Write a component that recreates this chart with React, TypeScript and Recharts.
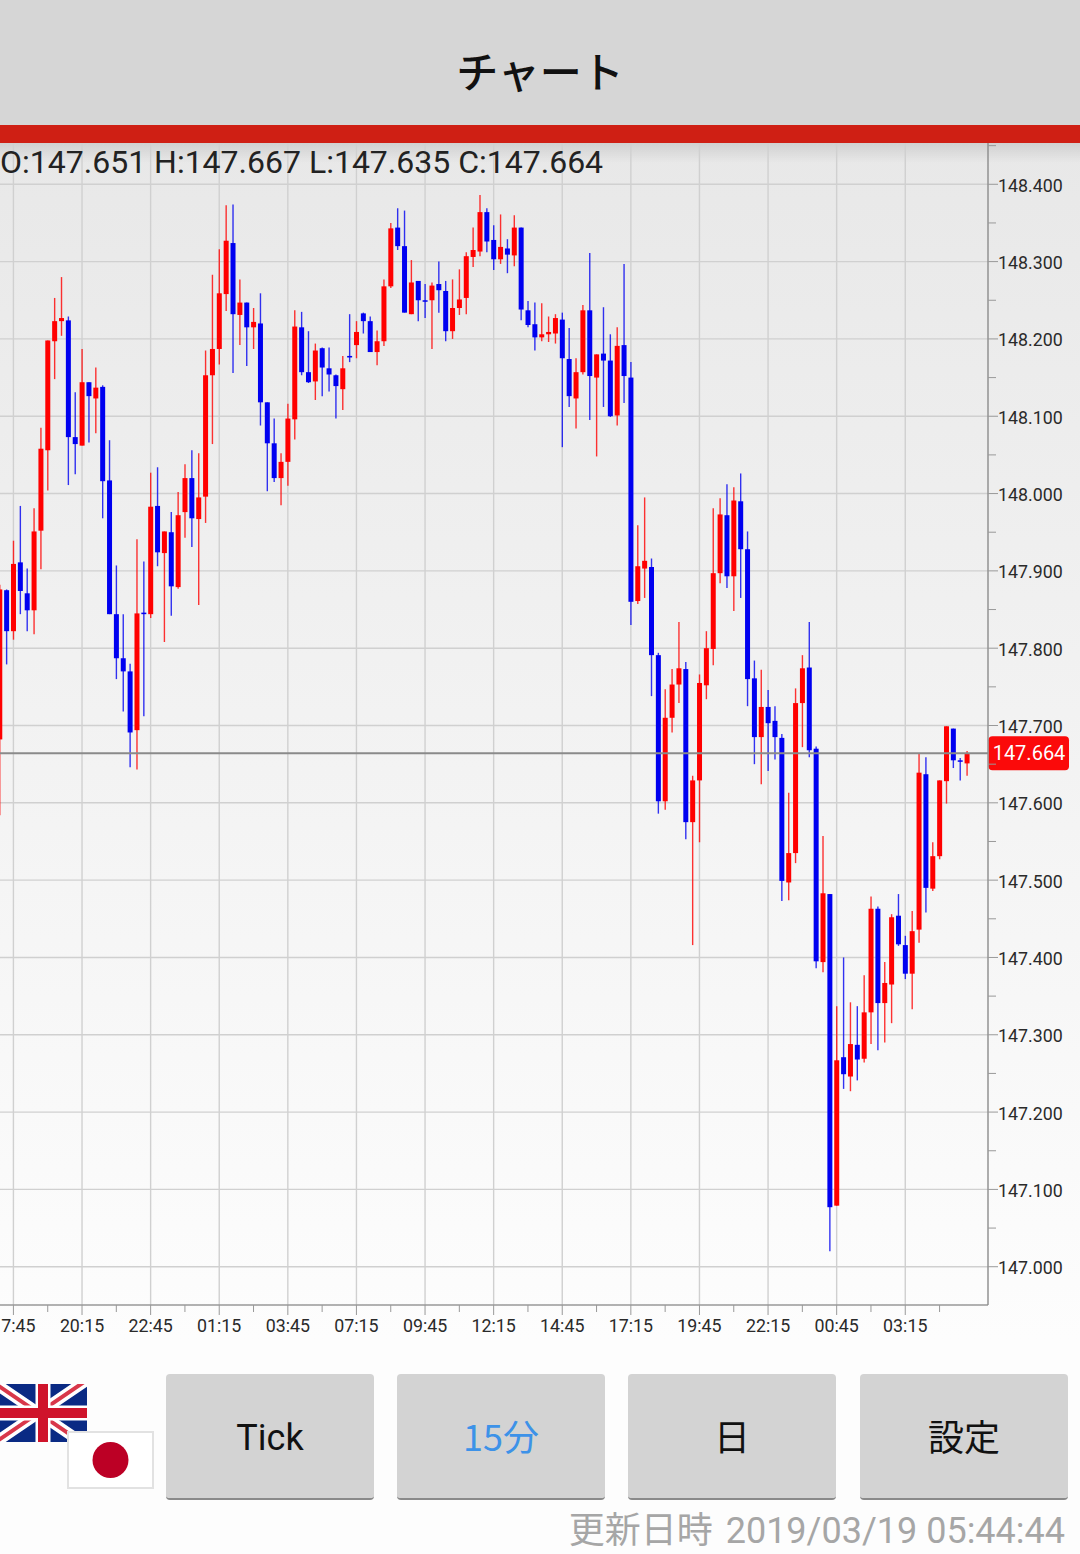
import React from "react";
import { ComposedChart, Bar, XAxis, YAxis, CartesianGrid, ReferenceLine } from "recharts";

const opens = [147682,147875,147822,147911,147871,147849,147952,148056,148197,148223,148224,148073,148062,148144,148123,148138,148017,147844,147787,147770,147694,147846,147844,147984,147923,147950,147879,147976,148020,147967,147996,148153,148187,148258,148324,148231,148247,148215,148220,148118,148065,148020,148041,148096,148215,148157,148145,148188,148162,148153,148135,148178,148192,148233,148223,148183,148197,148268,148344,148320,148232,148275,148250,148250,148271,148262,148210,148240,148253,148306,148313,148364,148328,148303,148317,148308,148344,148237,148219,148202,148206,148207,148225,148174,148123,148157,148237,148150,148181,148172,148101,148192,148150,147861,147903,147905,147791,147602,147710,147753,147773,147575,147629,147752,147799,147897,147972,147893,147990,147928,147761,147685,147724,147706,147684,147497,147535,147729,147775,147670,147394,147482,147079,147271,147246,147287,147269,147329,147463,147341,147365,147454,147416,147379,147436,147637,147489,147531,147628,147696,147655,147651];
const highs = [147882,147876,147939,147984,147903,147981,148085,148198,148253,148280,148229,148131,148187,148144,148163,148140,148069,147907,147844,147780,147941,147912,148027,148034,147951,147976,148002,148038,148056,148052,148185,148283,148316,148373,148374,148277,148247,148240,148259,148118,148097,148052,148116,148237,148235,148210,148194,148189,148189,148154,148178,148232,148223,148234,148229,148211,148277,148350,148369,148366,148302,148275,148271,148273,148300,148275,148277,148290,148312,148344,148386,148369,148347,148361,148329,148360,148344,148249,148247,148246,148229,148232,148234,148214,148175,148244,148311,148180,148241,148206,148215,148297,148170,147959,147995,147916,147794,147747,147773,147834,147782,147635,147766,147822,147981,147994,148012,148008,148026,147951,147784,147772,147746,147725,147689,147613,147748,147791,147834,147673,147557,147482,147337,147400,147342,147337,147377,147479,147466,147394,147456,147482,147428,147460,147664,147659,147549,147629,147699,147696,147658,147667];
const lows = [147584,147779,147811,147844,147822,147818,147902,148004,148148,148204,148011,148025,148062,148066,148078,147968,147844,147760,147718,147646,147643,147712,147839,147906,147808,147842,147877,147943,147931,147856,147962,148064,148167,148236,148156,148192,148165,148187,148088,148003,148015,147985,148010,148070,148153,148143,148121,148126,148132,148097,148108,148170,148175,148207,148183,148166,148191,148266,148315,148234,148232,148223,148227,148187,148234,148197,148200,148231,148232,148293,148307,148312,148289,148297,148285,148294,148224,148215,148185,148197,148196,148194,148060,148112,148084,148154,148095,148048,148112,148099,148088,148117,147830,147857,147865,147738,147586,147591,147691,147729,147553,147416,147549,147734,147778,147884,147878,147848,147865,147725,147650,147624,147641,147656,147473,147474,147522,147672,147659,147386,147381,147020,147079,147230,147227,147241,147264,147288,147280,147290,147315,147415,147372,147333,147419,147458,147486,147527,147599,147645,147629,147635];
const closes = [147876,147822,147909,147874,147849,147951,148058,148198,148223,148227,148073,148064,148144,148126,148137,148016,147844,147787,147770,147691,147845,147844,147983,147924,147951,147880,147972,148020,147968,147995,148153,148187,148259,148327,148232,148247,148215,148222,148118,148065,148020,148041,148097,148216,148157,148144,148185,148163,148154,148139,148162,148176,148209,148223,148183,148197,148268,148343,148320,148234,148273,148250,148249,148269,148263,148210,148240,148251,148307,148315,148364,148326,148303,148319,148309,148344,148238,148218,148202,148206,148209,148227,148175,148126,148157,148237,148152,148180,148172,148100,148191,148152,147860,147906,147913,147791,147602,147710,147753,147774,147575,147629,147755,147800,147897,147973,147893,147991,147928,147760,147685,147724,147703,147685,147499,147535,147729,147774,147668,147395,147483,147077,147267,147249,147288,147268,147329,147463,147341,147367,147452,147417,147379,147434,147639,147490,147531,147629,147699,147655,147654,147664];

const tickIndexes = [2,12,22,32,42,52,62,72,82,92,102,112,122,132];
const tickLabels = ["17:45","20:15","22:45","01:15","03:45","07:15","09:45","12:15","14:45","17:15","19:45","22:15","00:45","03:15"];
const minorIndexes = [7,17,27,37,47,57,67,77,87,97,107,117,127,137];
const priceTicks = [147,147.1,147.2,147.3,147.4,147.5,147.6,147.7,147.8,147.9,148,148.1,148.2,148.3,148.4];
const minorPriceTicks = [147.05,147.15,147.25,147.35,147.45,147.55,147.65,147.75,147.85,147.95,148.05,148.15,148.25,148.35,148.45];
const lastPrice = 147.664;
const ohlcText = "O:147.651 H:147.667 L:147.635 C:147.664";
const buttons = ["Tick", "15分", "日", "設定"];
const updatedLabel = "更新日時";
const updatedDate = "2019/03/19 05:44:44";
const title = "チャート";

const rows = opens.map((o, i) => ({
  i,
  open: o / 1000,
  close: closes[i] / 1000,
  range: [lows[i] / 1000, highs[i] / 1000],
}));

const FONT = "Roboto, 'Noto Sans CJK JP', sans-serif";
const CJK = "'Noto Sans CJK JP', sans-serif";

function Candle(props: any) {
  const { x, y, width, height, payload } = props;
  const cx = x + width / 2;
  const [lo, hi] = payload.range;
  const at = (v: number) => (hi === lo ? y : y + ((hi - v) / (hi - lo)) * height);
  const up = payload.close >= payload.open;
  const color = up ? "#ff0000" : "#0000f0";
  const top = at(Math.max(payload.open, payload.close));
  const bot = at(Math.min(payload.open, payload.close));
  return (
    <g>
      <line x1={cx} x2={cx} y1={y} y2={y + height} stroke={color} strokeWidth={1.4} strokeOpacity={0.8} />
      <rect x={cx - 2.5} y={top} width={5} height={Math.max(bot - top, 1.5)} fill={color} />
    </g>
  );
}

function XTick(props: any) {
  const { x, y, payload } = props;
  const k = tickIndexes.indexOf(payload.value);
  if (k < 0) return <line x1={x} x2={x} y1={y - 8} y2={y - 1} stroke="#999" strokeWidth={1} />;
  return (
    <g>
      <line x1={x} x2={x} y1={y - 8} y2={y + 2} stroke="#999" strokeWidth={1} />
      <text x={x} y={y + 19} textAnchor="middle" fontSize={17.8} fontFamily={FONT} fill="#2a2a2a">{tickLabels[k]}</text>
    </g>
  );
}

function YTick(props: any) {
  const { y, payload } = props;
  const labelled = priceTicks.includes(payload.value);
  return (
    <g>
      <line x1={988} x2={labelled ? 998 : 996} y1={y} y2={y} stroke="#999" strokeWidth={1} />
      {labelled && (
        <text x={998} y={y + 7.5} fontSize={17.8} fontFamily={FONT} fill="#2a2a2a">{payload.value.toFixed(3)}</text>
      )}
    </g>
  );
}

function PriceTag(props: any) {
  const y = props.viewBox.y;
  return (
    <g>
      <rect x={988.5} y={y - 17} width={80.5} height={34} rx={4} fill="#fb0a0a" />
      <text x={1029} y={y + 7} textAnchor="middle" fontSize={20} fontFamily={FONT} fill="#fff">{lastPrice.toFixed(3)}</text>
    </g>
  );
}

const btnLeft = [166, 397, 628, 860];

export default function App() {
  return (
    <div style={{ position: "absolute", left: 0, top: 0, width: 1080, height: 1554, overflow: "hidden", fontFamily: FONT, background: "linear-gradient(#e8e8e8 143px, #fdfdfd 1340px)" }}>
      <div style={{ position: "absolute", left: 0, top: 143, width: 1080, height: 20, background: "linear-gradient(rgba(0,0,0,0.10), rgba(0,0,0,0))" }} />
      <div style={{ position: "absolute", left: 0, top: 0, width: 1080, height: 125, background: "#d6d6d6", textAlign: "center", lineHeight: "139px", fontSize: 42, fontWeight: 500, color: "#111", fontFamily: CJK }}>{title}</div>
      <div style={{ position: "absolute", left: 0, top: 125, width: 1080, height: 18, background: "#cf1f14" }} />

      <div style={{ position: "absolute", left: 0, top: 0 }}>
        <ComposedChart width={1080} height={1554} data={rows} margin={{ top: 143, right: 0, bottom: 209, left: 0 }}>
          <CartesianGrid stroke="#d0d0d0" strokeWidth={1.4} horizontalValues={priceTicks} verticalValues={tickIndexes} />
          <XAxis
            dataKey="i"
            type="number"
            domain={[0.044, 144.06]}
            ticks={[...tickIndexes, ...minorIndexes].sort((a, b) => a - b)}
            tick={<XTick />}
            tickLine={false}
            axisLine={{ stroke: "#999", strokeWidth: 1.4 }}
            height={40}
            interval={0}
            allowDataOverflow
          />
          <YAxis
            orientation="right"
            type="number"
            domain={[146.9505, 148.4534]}
            ticks={[...priceTicks, ...minorPriceTicks].sort((a, b) => a - b)}
            tick={<YTick />}
            tickLine={false}
            axisLine={{ stroke: "#8c8c8c", strokeWidth: 1.4 }}
            width={92}
            interval={0}
            allowDataOverflow
          />
          <ReferenceLine y={lastPrice} stroke="#8a8a8a" strokeWidth={2} label={<PriceTag />} />
          <Bar dataKey="range" barSize={5} shape={<Candle />} isAnimationActive={false} />
        </ComposedChart>
      </div>

      <div style={{ position: "absolute", left: 0, top: 143, fontSize: 32, lineHeight: "38px", color: "#222", whiteSpace: "nowrap" }}>{ohlcText}</div>

      <svg style={{ position: "absolute", left: 0, top: 1384 }} width={87} height={58} viewBox="0 0 87 58">
        <rect width={87} height={58} fill="#0a2a84" />
        <path d="M-10 -4 L87 62 M-10 62 L87 -4" stroke="#fff" strokeWidth={11} />
        <path d="M-10 -4 L87 62 M-10 62 L87 -4" stroke="#d8374a" strokeWidth={4} />
        <path d="M43 0 V58 M0 29 H87" stroke="#fff" strokeWidth={15} />
        <path d="M43 0 V58 M0 29 H87" stroke="#cf142b" strokeWidth={10} />
      </svg>
      <svg style={{ position: "absolute", left: 67, top: 1431 }} width={87} height={58} viewBox="0 0 87 58">
        <rect x={1} y={1} width={85} height={56} fill="#fff" stroke="#e2e2e2" strokeWidth={2} />
        <circle cx={43.5} cy={29} r={18} fill="#bc0025" />
      </svg>

      {buttons.map((b, k) => (
        <div key={b} style={{ position: "absolute", left: btnLeft[k], top: 1374, width: 208, height: 124, background: "#d3d3d3", borderRadius: 4, borderBottom: "2px solid #8a8a8a", textAlign: "center", lineHeight: k === 0 ? "129px" : "123px", fontSize: 36, color: k === 1 ? "#3d92e8" : "#111", fontFamily: k === 0 ? FONT : CJK }}>{b}</div>
      ))}

      <div style={{ position: "absolute", right: 15, top: 1508, fontSize: 36, lineHeight: "46px", color: "#a6a6a6", whiteSpace: "nowrap", fontFamily: FONT }}>
        <span style={{ marginRight: 4 }}>{updatedLabel}</span> {updatedDate}
      </div>
    </div>
  );
}
